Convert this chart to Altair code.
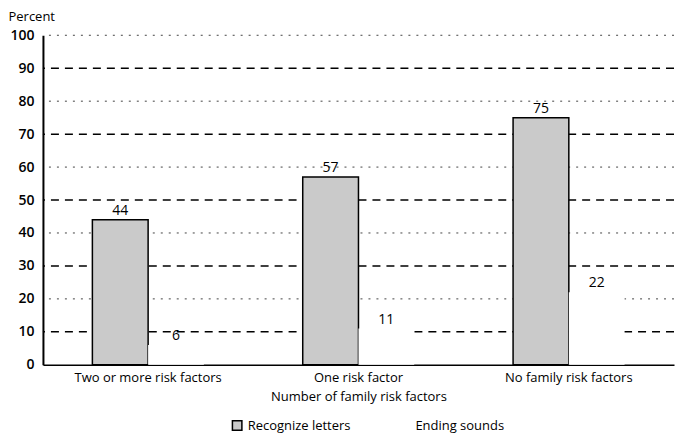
import altair as alt
import pandas as pd

categories = ["Two or more risk factors", "One risk factor", "No family risk factors"]
series = ["Recognize letters", "Ending sounds"]
recognize_letters = [44, 57, 75]
ending_sounds = [6, 11, 22]
major_grid = [10, 30, 50, 70, 90]
minor_grid = [20, 40, 60, 80, 100]
y_ticks = list(range(0, 101, 10))

rows = []
for c, a, b in zip(categories, recognize_letters, ending_sounds):
    rows.append({"category": c, "series": series[0], "value": a})
    rows.append({"category": c, "series": series[1], "value": b})
df = pd.DataFrame(rows)

FONT = "Open Sans"

x_enc = alt.X(
    "category:N",
    sort=categories,
    scale=alt.Scale(paddingInner=0.47, paddingOuter=0.235),
    axis=alt.Axis(
        title="Number of family risk factors",
        labelAngle=0,
        ticks=False,
        domainColor="black",
        domainWidth=1.5,
        labelFontSize=13,
        labelPadding=7,
        labelColor="black",
        titleFontSize=13,
        titleFontWeight="normal",
        titleColor="black",
        titlePadding=6,
    ),
)
xoff = alt.XOffset("series:N", sort=series, scale=alt.Scale(paddingInner=0, paddingOuter=0))
y_enc = alt.Y(
    "value:Q",
    scale=alt.Scale(domain=[0, 100], nice=False),
    axis=alt.Axis(
        values=y_ticks,
        grid=False,
        ticks=False,
        domainColor="black",
        domainWidth=2,
        labelFontSize=14,
        labelFontWeight=600,
        labelColor="black",
        labelPadding=9,
        title="Percent",
        titleAngle=0,
        titleAlign="left",
        titleBaseline="alphabetic",
        titleX=-35,
        titleY=-15,
        titleFontSize=13,
        titleFontWeight="normal",
        titleColor="black",
    ),
)

legend_def = alt.Legend(
    title=None,
    orient="none",
    legendX=188,
    legendY=384,
    direction="horizontal",
    symbolType="square",
    symbolSize=90,
    symbolStrokeWidth=1.5,
    labelFontSize=13,
    labelColor="black",
    columnPadding=45,
)

grid_major = alt.Chart(pd.DataFrame({"value": major_grid})).mark_rule(
    color="black", strokeWidth=1.5, strokeDash=[8, 6]
).encode(y=y_enc)
grid_minor = alt.Chart(pd.DataFrame({"value": minor_grid})).mark_rule(
    color="#444444", strokeWidth=1, strokeDash=[2, 6]
).encode(y=y_enc)

bars = alt.Chart(df).mark_bar(strokeWidth=1.5).encode(
    x=x_enc,
    xOffset=xoff,
    y=y_enc,
    color=alt.Color(
        "series:N",
        sort=series,
        scale=alt.Scale(domain=series, range=["#cacaca", "white"]),
        legend=legend_def,
    ),
    stroke=alt.Stroke(
        "series:N",
        sort=series,
        scale=alt.Scale(domain=series, range=["black", "rgba(0,0,0,0)"]),
        legend=legend_def,
    ),
)

labels = alt.Chart(df).mark_text(dy=-9, fontSize=14, color="black", font=FONT).encode(
    x=x_enc, xOffset=xoff, y=y_enc, text="value:Q"
)

chart = (
    alt.layer(grid_minor, grid_major, bars, labels)
    .properties(width=632, height=330, padding={"left": 0, "top": 2, "right": 0, "bottom": 0})
    .configure(font=FONT)
    .configure_view(stroke=None)
)

chart.save("out.html", embed_options={"renderer": "svg", "actions": False})
